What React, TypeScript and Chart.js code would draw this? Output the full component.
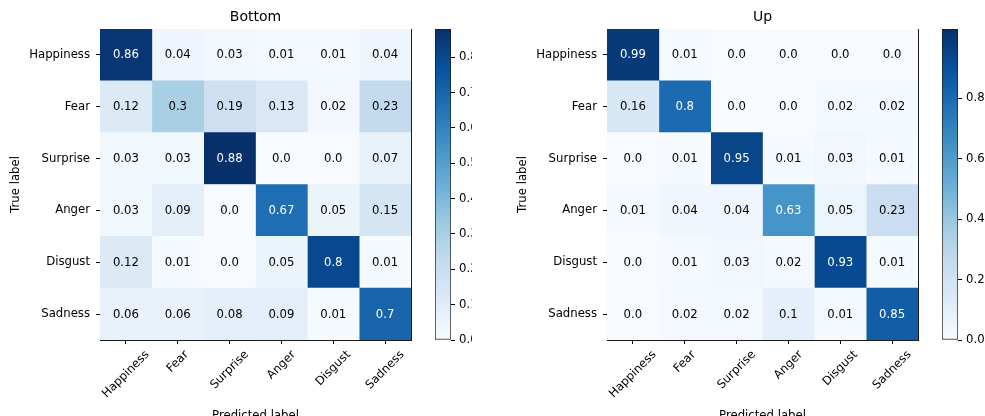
import React, { useEffect, useRef } from "react";
import { Chart, registerables } from "chart.js";

Chart.register(...registerables);

const trueLabels = ["Happiness", "Fear", "Surprise", "Anger", "Disgust", "Sadness"];
const predictedLabels = ["Happiness", "Fear", "Surprise", "Anger", "Disgust", "Sadness"];

const bottomTitle = "Bottom";
const bottomValues = [
  [0.86, 0.04, 0.03, 0.01, 0.01, 0.04],
  [0.12, 0.3, 0.19, 0.13, 0.02, 0.23],
  [0.03, 0.03, 0.88, 0.0, 0.0, 0.07],
  [0.03, 0.09, 0.0, 0.67, 0.05, 0.15],
  [0.12, 0.01, 0.0, 0.05, 0.8, 0.01],
  [0.06, 0.06, 0.08, 0.09, 0.01, 0.7],
];
const bottomColorMax = 0.88;
const bottomColorTicks = [0.0, 0.1, 0.2, 0.3, 0.4, 0.5, 0.6, 0.7, 0.8];

const upTitle = "Up";
const upValues = [
  [0.99, 0.01, 0.0, 0.0, 0.0, 0.0],
  [0.16, 0.8, 0.0, 0.0, 0.02, 0.02],
  [0.0, 0.01, 0.95, 0.01, 0.03, 0.01],
  [0.01, 0.04, 0.04, 0.63, 0.05, 0.23],
  [0.0, 0.01, 0.03, 0.02, 0.93, 0.01],
  [0.0, 0.02, 0.02, 0.1, 0.01, 0.85],
];
const upColorMax = 1.03;
const upColorTicks = [0.0, 0.2, 0.4, 0.6, 0.8];

const BLUES = ["#f7fbff", "#deebf7", "#c6dbef", "#9ecae1", "#6baed6", "#4292c6", "#2171b5", "#08519c", "#08306b"];
const FONT = "'DejaVu Sans', sans-serif";
const TICK_SIZE = 11.7;
const TITLE_SIZE = 14;
const INK = "#000000";
const SPINE = "#1a1a1a";

function hexToRgb(h: string): number[] {
  return [parseInt(h.slice(1, 3), 16), parseInt(h.slice(3, 5), 16), parseInt(h.slice(5, 7), 16)];
}

function blues(t: number): string {
  const c = Math.max(0, Math.min(1, t)) * (BLUES.length - 1);
  const i = Math.min(Math.floor(c), BLUES.length - 2);
  const f = c - i;
  const a = hexToRgb(BLUES[i]);
  const b = hexToRgb(BLUES[i + 1]);
  const m = a.map((v, k) => Math.round(v + (b[k] - v) * f));
  return `rgb(${m[0]},${m[1]},${m[2]})`;
}

function fmt(v: number): string {
  return Number.isInteger(v) ? v.toFixed(1) : String(v);
}

function matrixConfig(title: string, values: number[][], vmax: number, padLeft: number, padRight: number): any {
  const cellText = {
    id: "cellText",
    afterDatasetsDraw(chart: any) {
      const ctx = chart.ctx;
      ctx.save();
      ctx.font = `${TICK_SIZE}px ${FONT}`;
      ctx.textAlign = "center";
      ctx.textBaseline = "middle";
      chart.data.datasets.forEach((ds: any, j: number) => {
        const meta = chart.getDatasetMeta(j);
        meta.data.forEach((el: any, i: number) => {
          const v = ds.cellValues[i];
          const p = el.getCenterPoint();
          ctx.fillStyle = v > vmax / 2 ? "#ffffff" : "#000000";
          ctx.fillText(fmt(v), p.x, p.y + 0.5);
        });
      });
      ctx.restore();
    },
  };
  const xTickText = {
    id: "xTickText",
    afterDraw(chart: any) {
      const ctx = chart.ctx;
      const scale = chart.scales.x;
      ctx.save();
      ctx.font = `${TICK_SIZE}px ${FONT}`;
      ctx.fillStyle = INK;
      ctx.textAlign = "center";
      ctx.textBaseline = "middle";
      const y0 = scale.top + 4 + 4;
      predictedLabels.forEach((lab, j) => {
        const px = scale.getPixelForValue(j + 0.5);
        const w = ctx.measureText(lab).width;
        const box = (w + TICK_SIZE * 1.16) / Math.SQRT2;
        ctx.save();
        ctx.translate(px, y0 + box / 2);
        ctx.rotate(-Math.PI / 4);
        ctx.fillText(lab, 0, 0);
        ctx.restore();
      });
      ctx.restore();
    },
  };
  return {
    type: "bar",
    data: {
      labels: trueLabels,
      datasets: predictedLabels.map((p, j) => ({
        label: p,
        data: trueLabels.map(() => 1),
        cellValues: trueLabels.map((_, i) => values[i][j]),
        backgroundColor: trueLabels.map((_, i) => blues(values[i][j] / vmax)),
        borderWidth: 0,
        barPercentage: 1,
        categoryPercentage: 1,
      })),
    },
    options: {
      indexAxis: "y",
      animation: false,
      responsive: false,
      maintainAspectRatio: false,
      layout: { padding: { left: padLeft, right: padRight, top: 0, bottom: 0 } },
      plugins: { legend: { display: false }, tooltip: { enabled: false }, title: { display: false } },
      scales: {
        x: {
          type: "linear",
          position: "bottom",
          stacked: true,
          min: 0,
          max: predictedLabels.length,
          z: 1,
          afterBuildTicks: (s: any) => {
            s.ticks = predictedLabels.map((_, j) => ({ value: j + 0.5 }));
          },
          ticks: { display: false },
          grid: { drawOnChartArea: false, drawTicks: true, tickLength: 4, color: INK, lineWidth: 1 },
          border: { display: true, color: SPINE, width: 1 },
          title: {
            display: true,
            text: "Predicted label",
            color: INK,
            font: { family: FONT, size: TICK_SIZE, lineHeight: 1 },
            padding: { top: 0, bottom: -6 },
          },
          afterFit: (s: any) => {
            s.height = 76;
          },
        },
        xTop: {
          type: "linear",
          position: "top",
          min: 0,
          max: predictedLabels.length,
          z: 1,
          ticks: { display: false },
          grid: { display: false },
          border: { display: true, color: SPINE, width: 1 },
          title: {
            display: true,
            text: title,
            color: INK,
            font: { family: FONT, size: TITLE_SIZE, lineHeight: 1.2 },
            padding: { top: 9, bottom: 0 },
          },
          afterFit: (s: any) => {
            s.height = 29;
          },
        },
        y: {
          type: "category",
          position: "left",
          stacked: true,
          offset: true,
          z: 1,
          grid: { offset: false, drawOnChartArea: false, drawTicks: true, tickLength: 4, color: INK, lineWidth: 1 },
          border: { display: true, color: SPINE, width: 1 },
          ticks: { color: INK, font: { family: FONT, size: TICK_SIZE }, padding: 6 },
          title: {
            display: true,
            text: "True label",
            color: INK,
            font: { family: FONT, size: TICK_SIZE, lineHeight: 1.2 },
            padding: { top: 9, bottom: 0 },
          },
          afterFit: (s: any) => {
            s.width = 100;
          },
        },
        yRight: {
          type: "linear",
          position: "right",
          z: 1,
          ticks: { display: false },
          grid: { display: false },
          border: { display: true, color: SPINE, width: 1 },
          afterFit: (s: any) => {
            s.width = 0;
          },
        },
      },
    },
    plugins: [cellText, xTickText],
  };
}

function colorbarConfig(vmax: number, ticks: number[], axisWidth: number): any {
  return {
    type: "bar",
    data: {
      labels: [""],
      datasets: [
        {
          data: [vmax],
          backgroundColor: (c: any) => {
            const chart = c.chart;
            const area = chart.chartArea;
            if (!area) return BLUES[0];
            const g = chart.ctx.createLinearGradient(0, area.bottom, 0, area.top);
            BLUES.forEach((col, k) => g.addColorStop(k / (BLUES.length - 1), col));
            return g;
          },
          borderWidth: 1,
          borderColor: SPINE,
          borderSkipped: false,
          barPercentage: 1,
          categoryPercentage: 1,
        },
      ],
    },
    options: {
      animation: false,
      responsive: false,
      maintainAspectRatio: false,
      layout: { padding: { left: 10, right: 0, top: 29, bottom: 76 } },
      plugins: { legend: { display: false }, tooltip: { enabled: false } },
      scales: {
        x: { display: false },
        y: {
          position: "right",
          min: 0,
          max: vmax,
          afterBuildTicks: (s: any) => {
            s.ticks = ticks.map((v) => ({ value: v }));
          },
          ticks: {
            color: INK,
            font: { family: FONT, size: TICK_SIZE },
            padding: 4,
            callback: (v: any) => Number(v).toFixed(1),
          },
          grid: { drawOnChartArea: false, drawTicks: true, tickLength: 4, color: INK, lineWidth: 1 },
          border: { display: false },
          afterFit: (s: any) => {
            s.width = axisWidth;
          },
        },
      },
    },
  };
}

function ChartCanvas(props: { config: () => any; left: number; width: number }) {
  const ref = useRef<HTMLCanvasElement | null>(null);
  useEffect(() => {
    if (!ref.current) return;
    const chart = new Chart(ref.current, props.config());
    return () => chart.destroy();
  }, []);
  return (
    <canvas
      ref={ref}
      width={props.width}
      height={416}
      style={{ position: "absolute", left: props.left, top: 0, width: props.width, height: 416 }}
    />
  );
}

export default function App() {
  Chart.defaults.font.family = FONT;
  Chart.defaults.color = INK;
  return (
    <div style={{ position: "absolute", left: 0, top: 0, width: 985, height: 416, background: "#ffffff", overflow: "hidden" }}>
      <ChartCanvas left={0} width={420} config={() => matrixConfig(bottomTitle, bottomValues, bottomColorMax, 0, 9)} />
      <ChartCanvas left={425} width={47} config={() => colorbarConfig(bottomColorMax, bottomColorTicks, 21)} />
      <ChartCanvas left={472} width={453} config={() => matrixConfig(upTitle, upValues, upColorMax, 35, 7)} />
      <ChartCanvas left={932} width={53} config={() => colorbarConfig(upColorMax, upColorTicks, 27)} />
    </div>
  );
}
